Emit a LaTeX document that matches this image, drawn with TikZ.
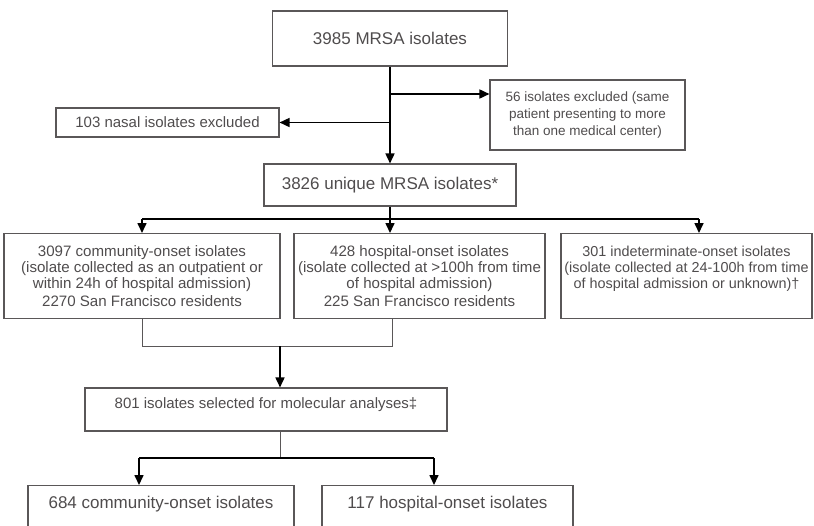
\documentclass[tikz,border=0pt]{standalone}
\usepackage{fontspec}
\setmainfont{Liberation Sans}
\usetikzlibrary{arrows.meta}
\definecolor{tgray}{cmyk}{0,0,0,0.8}
\definecolor{bgray}{cmyk}{0,0,0,0.75}
\tikzset{%
    % style for all boxes of the chart
    box/.style={%
        draw=bgray,
        line width=1.1pt,
        text=tgray,
        align=center,
        inner sep=2pt,
        font=\fontsize{15}{16.5}\selectfont,
    },
    % boxes with the big counts
    big box/.style={%
        box,
        font=\fontsize{17}{20}\selectfont,
    },
    % box with the duplicates
    small box/.style={%
        box,
        font=\fontsize{13.5}{16.8}\selectfont,
    },
    % the three onset groups
    group box/.style={%
        box,
        minimum height=85pt,
        anchor=north,
        font=\fontsize{15.1}{16.3}\selectfont,
    },
    % the two boxes at the foot, cut by the page
    foot box/.style={%
        big box,
        anchor=north,
        inner ysep=4pt,
        text height=19pt,
        text depth=30pt,
    },
    % style for the thick arrows
    flow/.style={%
        line width=1.6pt,
        -{Triangle[length=10pt,width=9pt]},
    },
    % thick line without tip
    trunk/.style={%
        flow, -,
    },
    % thin joining lines
    link/.style={%
        line width=0.9pt,
        bgray,
    },
}

\begin{document}
\begin{tikzpicture}[x=1pt,y=-1pt]
    % the page has the size of the original
    \useasboundingbox (0,0) rectangle (814,525);
    % boxes
    \node (ALL) [big box, minimum width=235pt, minimum height=55pt]
          at (390,38.5) {3985 MRSA isolates};
    \node (DUP) [small box, minimum width=195pt, minimum height=70pt]
          at (587.5,115) {56 isolates excluded (same\\
                          patient presenting to more\\
                          than one medical center)};
    \node (NAS) [box, minimum width=223pt, minimum height=29pt]
          at (167.5,122.5) {103 nasal isolates excluded};
    \node (UNI) [big box, minimum width=252pt, minimum height=42pt]
          at (390,185) {3826 unique MRSA isolates*};
    %% onset groups
    \node (CO) [group box, minimum width=276pt] at (142,233)
          {3097 community-onset isolates\\
           (isolate collected as an outpatient or\\
           within 24h of hospital admission)\\[1.5pt]
           2270 San Francisco residents};
    \node (HO) [group box, minimum width=251pt] at (419.5,233)
          {428 hospital-onset isolates\\
           (isolate collected at >100h from time\\
           of hospital admission)\\[1.5pt]
           225 San Francisco residents};
    \node (IO) [group box, minimum width=251pt,
                font=\fontsize{14.4}{16.3}\selectfont] at (686.5,233)
          {301 indeterminate-onset isolates\\
           (isolate collected at 24-100h from time\\
           of hospital admission or unknown)\dag\\[1.5pt]
           \mbox{}};
    %% molecular analyses
    \node (MOL) [box, minimum width=362pt, minimum height=43pt,
                 text height=11pt, text depth=13pt]
          at (266,409.5) {801 isolates selected for molecular analyses\ddag};
    \node (MCO) [foot box, minimum width=266pt] at (161,485)
          {684 community-onset isolates};
    \node (MHO) [foot box, minimum width=251pt] at (447.5,485)
          {117 hospital-onset isolates};
    % connectors
    %% exclusions
    \coordinate (J1) at (390,94);
    \draw [flow] (ALL.south) -- (ALL.south |- UNI.north);
    \draw [flow] (J1) -- (J1 -| DUP.west);
    \draw [flow] (ALL.south |- NAS.east) -- (NAS.east);
    %% split into the onset groups
    \coordinate (S1) at (142,219);
    \coordinate (S3) at (699,219);
    \draw [trunk] (S1) -- (S3);
    \draw [flow] (S1) -- (CO.north);
    \draw [flow] (UNI.south) -- (UNI.south |- HO.north);
    \draw [flow] (S3) -- (S3 |- IO.north);
    %% join of community and hospital onset
    \coordinate (M1) at (142,346);
    \coordinate (M2) at (392,346);
    \coordinate (M0) at (280,346);
    \draw [link] (CO.south) -- (M1) -- (M2) -- (M2 |- HO.south);
    \draw [flow] (M0) -- (M0 |- MOL.north);
    %% split of the selected isolates
    \coordinate (L0) at (280,458);
    \coordinate (L1) at (139,458);
    \coordinate (L2) at (434,458);
    \draw [link] (MOL.south -| L0) -- (L0);
    \draw [trunk] (L1) -- (L2);
    \draw [flow] (L1) -- (L1 |- MCO.north);
    \draw [flow] (L2) -- (L2 |- MHO.north);
\end{tikzpicture}
\end{document}
